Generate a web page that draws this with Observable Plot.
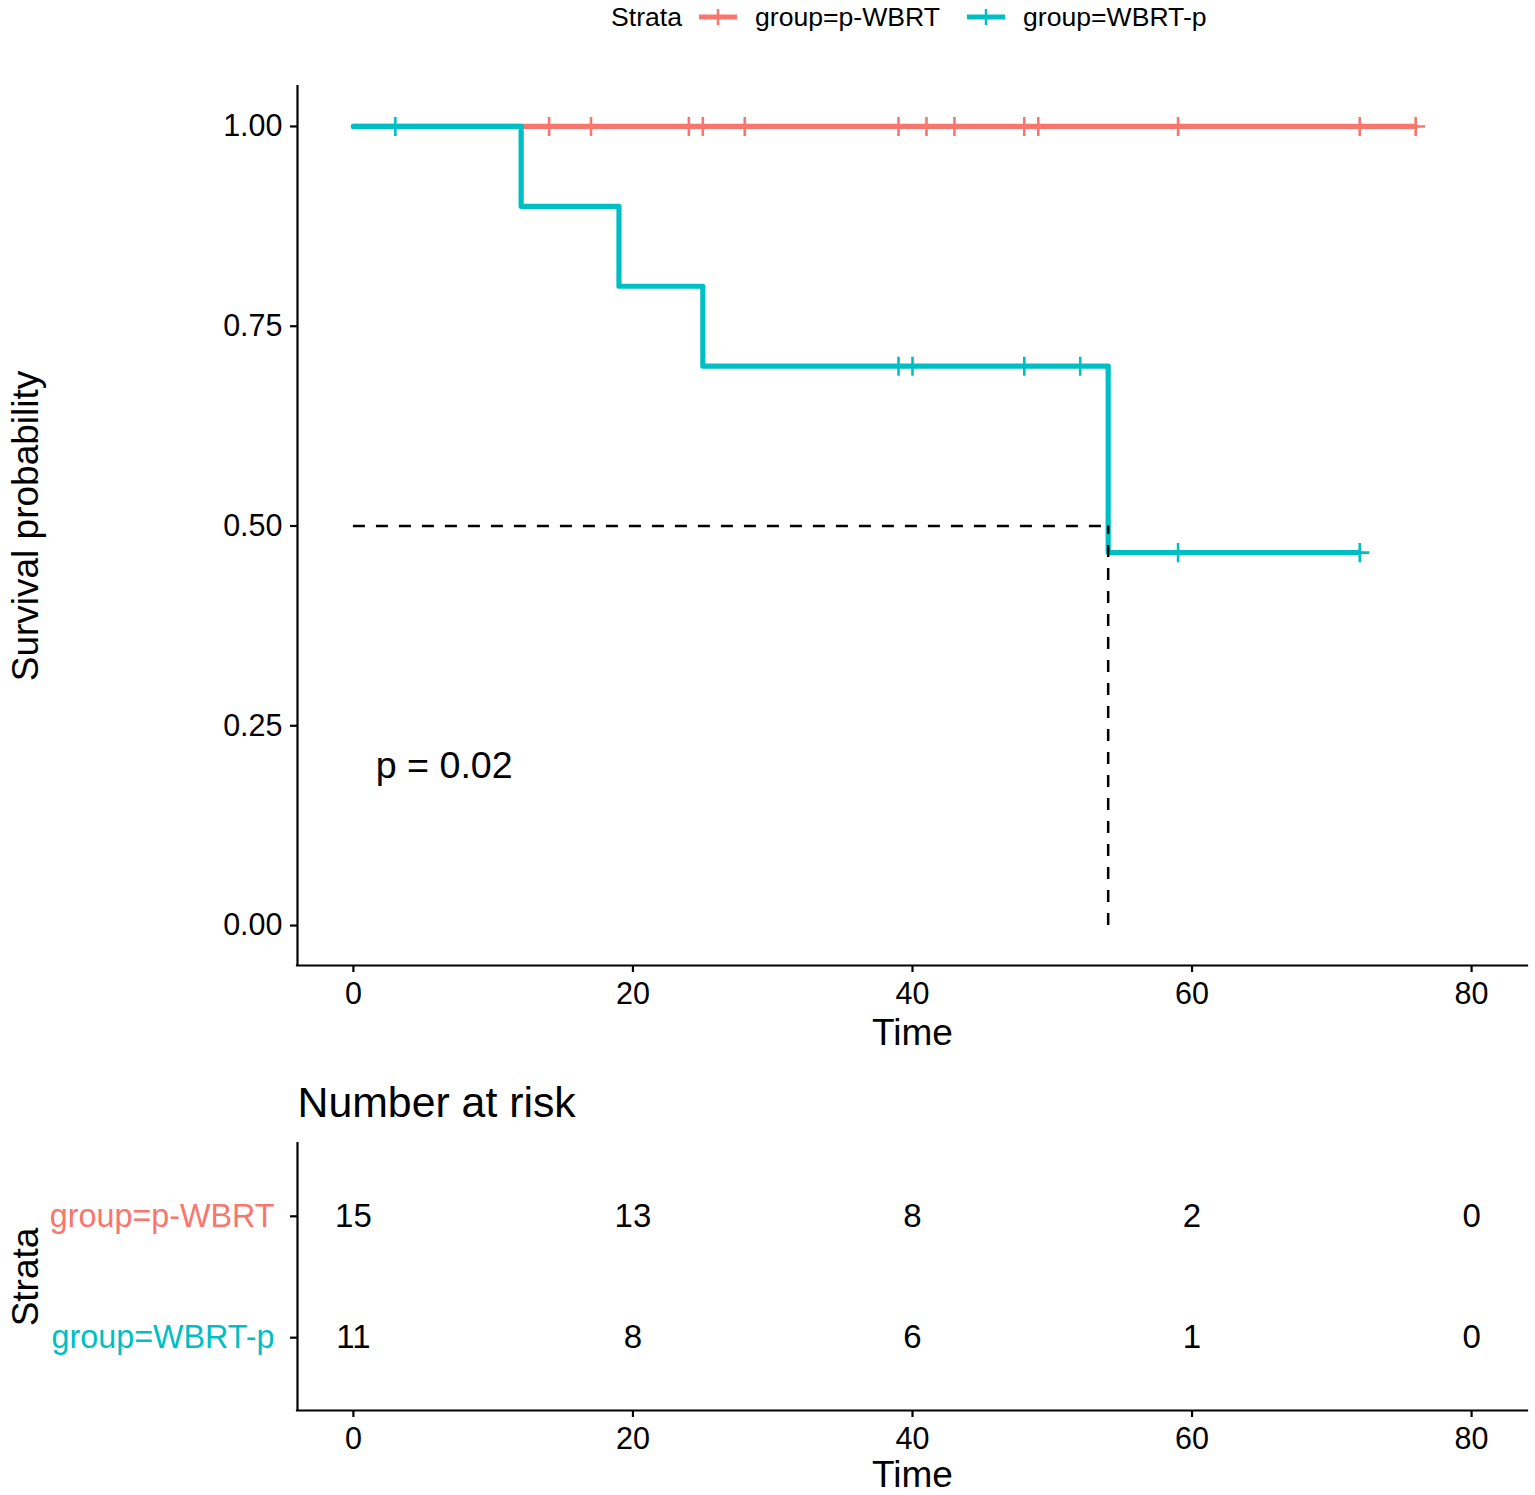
<!DOCTYPE html>
<html>
<head>
<meta charset="utf-8">
<script src="https://cdn.jsdelivr.net/npm/d3@7"></script>
<script src="https://cdn.jsdelivr.net/npm/@observablehq/plot@0.6"></script>
<style>
  html, body { margin: 0; padding: 0; background: #fff; overflow: hidden; }
  #wrap { position: relative; width: 1535px; height: 1495px; font-family: "Liberation Sans", Arial, sans-serif; color: #000; }
  .leg { position: absolute; top: 0; font-size: 26.6px; line-height: 34px; white-space: nowrap; }
</style>
</head>
<body>
<div id="wrap"></div>
<script>
// ---------- data ----------
const groups = ["group=p-WBRT", "group=WBRT-p"];
const colors = ["#F8766D", "#00BFC4"];

// Kaplan-Meier step points (time, survival)
const pwbrtTime = [0, 76];
const pwbrtSurv = [1, 1];
const wbrtpTime = [0, 12, 19, 25, 54, 72];
const wbrtpSurv = [1, 0.9, 0.8, 0.7, 0.4667, 0.4667];

// censoring times
const pwbrtCensor = [14, 17, 24, 25, 28, 39, 41, 43, 48, 49, 59, 72, 76];
const wbrtpCensor = [3, 39, 40, 48, 52, 59, 72];

// median survival
const medianTime = 54;
const medianSurv = 0.5;

const xTicks = [0, 20, 40, 60, 80];
const yTicks = [0, 0.25, 0.5, 0.75, 1];

// number at risk
const riskTimes = [0, 20, 40, 60, 80];
const riskPwbrt = [15, 13, 8, 2, 0];
const riskWbrtp = [11, 8, 6, 1, 0];

const pValueLabel = "p = 0.02";
const pValuePos = {time: 1.6, surv: 0.2};

// ---------- derived tables ----------
const survAt = (times, survs, t) => {
  let s = survs[0];
  for (let i = 0; i < times.length; i++) if (times[i] <= t) s = survs[i];
  return s;
};
const curveP = pwbrtTime.map((t, i) => ({time: t, surv: pwbrtSurv[i]}));
const curveW = wbrtpTime.map((t, i) => ({time: t, surv: wbrtpSurv[i]}));
const censP = pwbrtCensor.map(t => ({time: t, surv: survAt(pwbrtTime, pwbrtSurv, t)}));
const censW = wbrtpCensor.map(t => ({time: t, surv: survAt(wbrtpTime, wbrtpSurv, t)}));
const riskRows = riskTimes.flatMap((t, i) => [
  {time: t, row: 2, n: riskPwbrt[i]},
  {time: t, row: 1, n: riskWbrtp[i]}
]);

const FONT = '"Liberation Sans", Arial, sans-serif';
const AX = 2.2;
const LW = 5.2;
const wrap = document.getElementById("wrap");

// ---------- legend (HTML) ----------
function addText(txt, left, color) {
  const d = document.createElement("div");
  d.className = "leg";
  d.style.left = left + "px";
  d.style.color = color;
  d.textContent = txt;
  wrap.appendChild(d);
}
function addKey(left, color) {
  const ns = "http://www.w3.org/2000/svg";
  const s = document.createElementNS(ns, "svg");
  s.setAttribute("width", 38); s.setAttribute("height", 34);
  s.style.position = "absolute"; s.style.left = left + "px"; s.style.top = "0px";
  const l1 = document.createElementNS(ns, "line");
  l1.setAttribute("x1", 0); l1.setAttribute("x2", 38); l1.setAttribute("y1", 17); l1.setAttribute("y2", 17);
  l1.setAttribute("stroke", color); l1.setAttribute("stroke-width", 4.8);
  const l2 = document.createElementNS(ns, "line");
  l2.setAttribute("x1", 19); l2.setAttribute("x2", 19); l2.setAttribute("y1", 9); l2.setAttribute("y2", 25);
  l2.setAttribute("stroke", color); l2.setAttribute("stroke-width", 2.5);
  s.appendChild(l1); s.appendChild(l2);
  wrap.appendChild(s);
}
addText("Strata", 611, "#000");
addKey(699, colors[0]);
addText(groups[0], 755, "#000");
addKey(967, colors[1]);
addText(groups[1], 1023, "#000");

// ---------- main KM plot ----------
const main = Plot.plot({
  width: 1535, height: 1020,
  marginTop: 46, marginBottom: 95, marginLeft: 297, marginRight: 8,
  x: {domain: [-4, 84]},
  y: {domain: [-0.05, 1.05]},
  style: {fontFamily: FONT, fontSize: "30px", color: "#000", background: "white", overflow: "visible"},
  marks: [
    Plot.line(curveP, {x: "time", y: "surv", curve: "step-after", stroke: colors[0], strokeWidth: LW}),
    Plot.dot(censP, {x: "time", y: "surv", symbol: "plus", r: 6.2, stroke: colors[0], strokeWidth: 2.6}),
    Plot.line(curveW, {x: "time", y: "surv", curve: "step-after", stroke: colors[1], strokeWidth: LW}),
    Plot.dot(censW, {x: "time", y: "surv", symbol: "plus", r: 6.2, stroke: colors[1], strokeWidth: 2.6}),
    Plot.ruleY([medianSurv], {x1: 0, x2: medianTime, stroke: "#000", strokeWidth: 2.5, strokeDasharray: "12,11"}),
    Plot.ruleX([medianTime], {y1: 0, y2: medianSurv, stroke: "#000", strokeWidth: 2.5, strokeDasharray: "12,11"}),
    Plot.text([pValueLabel], {text: d => d, x: pValuePos.time, y: pValuePos.surv, textAnchor: "start", fontSize: 37.6}),
    Plot.ruleX([-4], {stroke: "#000", strokeWidth: AX, strokeLinecap: "square"}),
    Plot.ruleY([-0.05], {stroke: "#000", strokeWidth: AX, strokeLinecap: "square"}),
    Plot.axisY(yTicks, {tickFormat: d3.format(".2f"), tickSize: 7, tickPadding: 8, fontSize: 30.5, strokeWidth: AX, label: null}),
    Plot.axisX(xTicks, {tickFormat: d => String(d), tickSize: 7, tickPadding: 10, fontSize: 30.5, strokeWidth: AX, label: null}),
    Plot.text(["Time"], {text: d => d, frameAnchor: "bottom", dy: 68, textAnchor: "middle", lineAnchor: "middle", fontSize: 37}),
    Plot.text(["Survival probability"], {text: d => d, frameAnchor: "left", dx: -271, rotate: -90, textAnchor: "middle", lineAnchor: "middle", fontSize: 37})
  ]
});
main.style.position = "absolute";
main.style.left = "0px";
main.style.top = "40px";
wrap.appendChild(main);

// ---------- risk table ----------
const table = Plot.plot({
  width: 1535, height: 420,
  marginTop: 68, marginBottom: 85, marginLeft: 297, marginRight: 8,
  x: {domain: [-4, 84]},
  y: {domain: [0.4, 2.6]},
  style: {fontFamily: FONT, fontSize: "30px", color: "#000", background: "white", overflow: "visible"},
  marks: [
    Plot.text(["Number at risk"], {text: d => d, frameAnchor: "top-left", dx: 0, dy: -40, textAnchor: "start", lineAnchor: "middle", fontSize: 42.8}),
    Plot.ruleX([-4], {stroke: "#000", strokeWidth: AX, strokeLinecap: "square"}),
    Plot.ruleY([0.4], {stroke: "#000", strokeWidth: AX, strokeLinecap: "square"}),
    Plot.axisY([2], {tickFormat: () => groups[0], fill: colors[0], stroke: "#000", tickSize: 7, tickPadding: 16, fontSize: 32.3, strokeWidth: AX, label: null}),
    Plot.axisY([1], {tickFormat: () => groups[1], fill: colors[1], stroke: "#000", tickSize: 7, tickPadding: 16, fontSize: 32.3, strokeWidth: AX, label: null}),
    Plot.axisX(xTicks, {tickFormat: d => String(d), tickSize: 7, tickPadding: 10, fontSize: 30.5, strokeWidth: AX, label: null}),
    Plot.text(riskRows, {x: "time", y: "row", text: d => String(d.n), fontSize: 33, lineAnchor: "middle"}),
    Plot.text(["Time"], {text: d => d, frameAnchor: "bottom", dy: 65, textAnchor: "middle", lineAnchor: "middle", fontSize: 37}),
    Plot.text(["Strata"], {text: d => d, frameAnchor: "left", dx: -271, rotate: -90, textAnchor: "middle", lineAnchor: "middle", fontSize: 37})
  ]
});
table.style.position = "absolute";
table.style.left = "0px";
table.style.top = "1075px";
wrap.appendChild(table);
</script>
</body>
</html>
